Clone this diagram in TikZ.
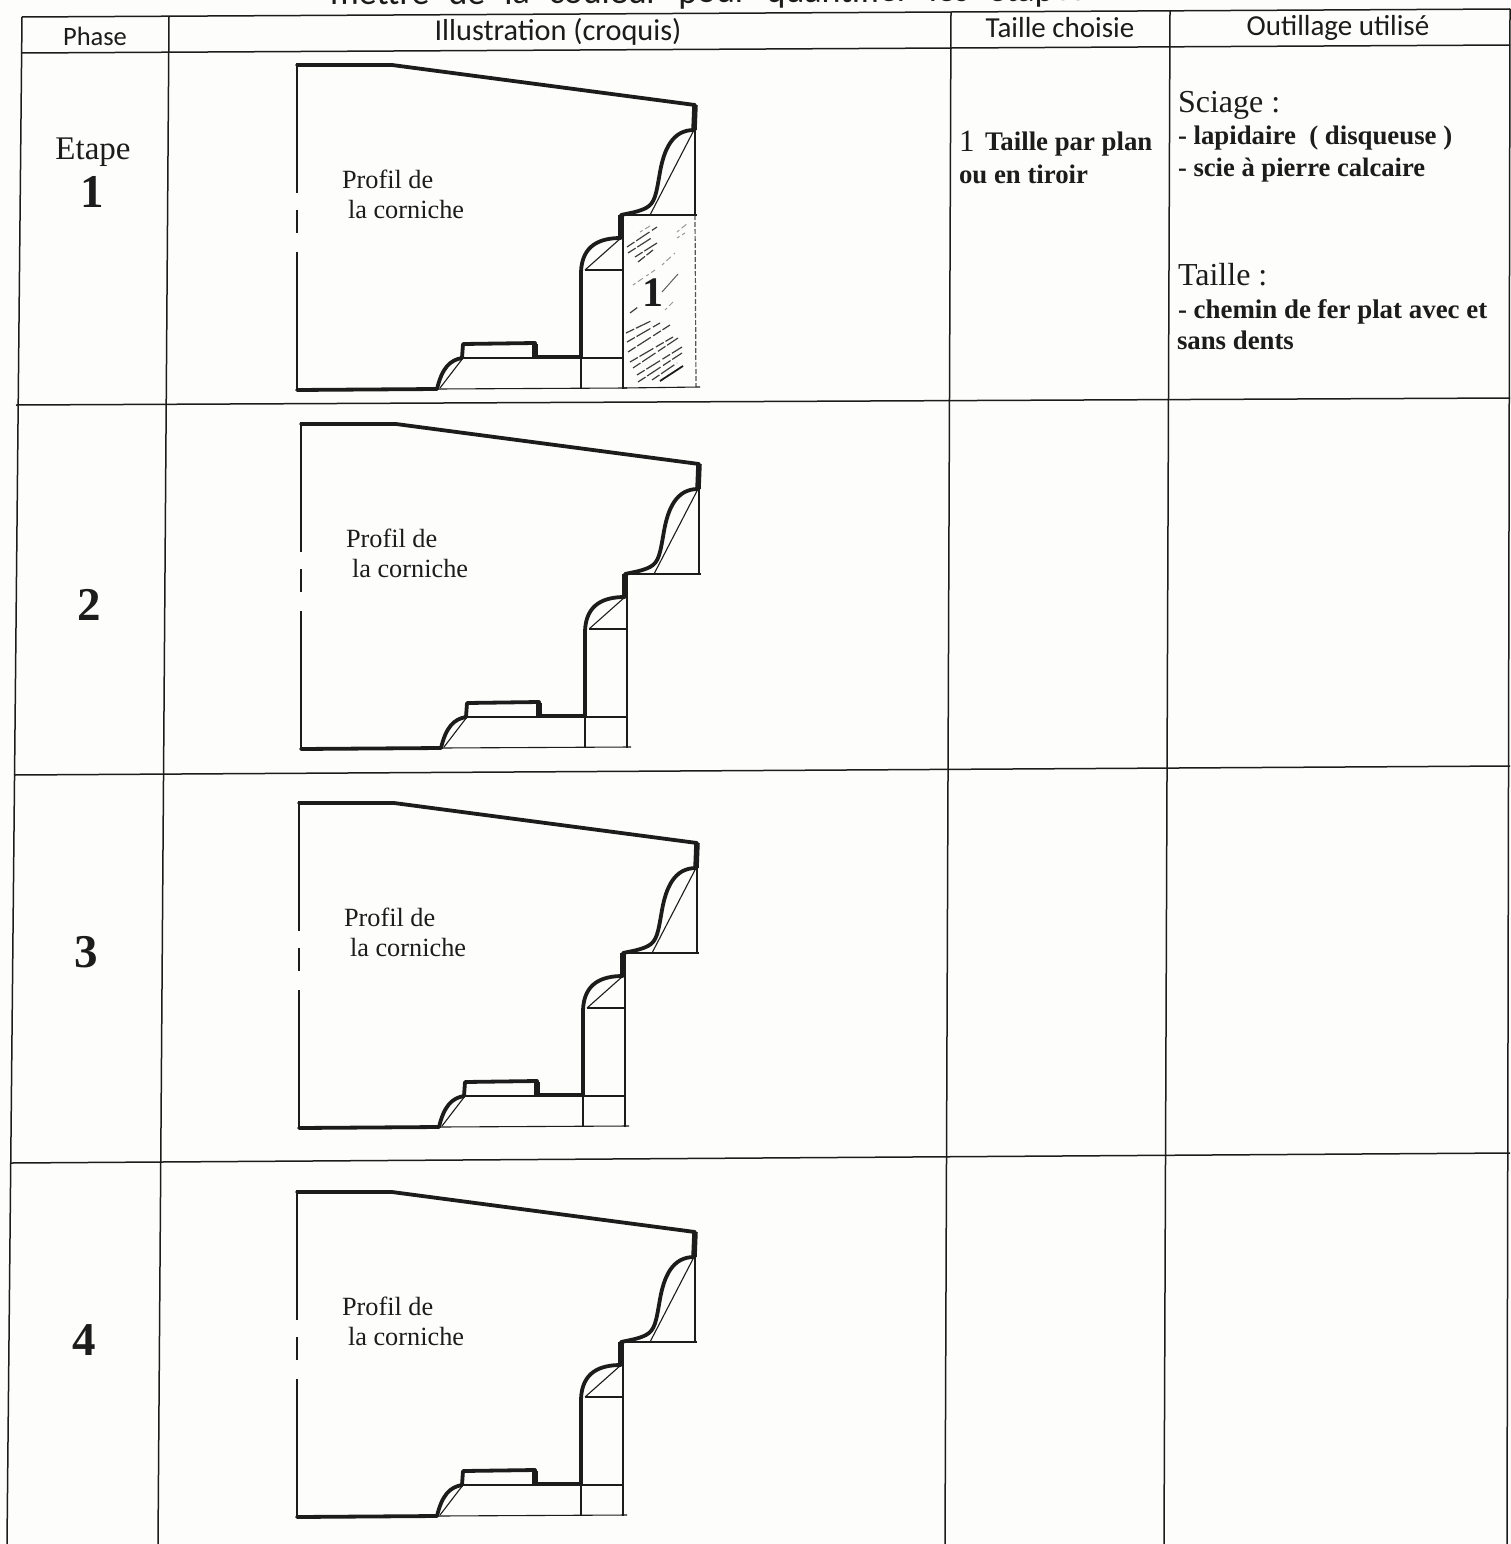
\documentclass[tikz,border=0pt]{standalone}
\usepackage{fontspec}
\setmainfont{Liberation Serif}
\newfontfamily\handfont{Carlito}
\definecolor{paper}{HTML}{FDFDFB}
\definecolor{ink}{HTML}{1C1C1C}
\tikzset{
  rule/.style={draw=ink,line width=1.5pt},
  heavy/.style={draw=ink,line width=3.8pt,line cap=round,line join=round},
  heavier/.style={draw=ink,line width=5.5pt},
  light/.style={draw=ink,line width=1.1pt},
  medium/.style={draw=ink,line width=2pt},
  txt/.style={inner sep=0pt,outer sep=0pt,anchor=base west,text=ink},
  headtxt/.style={inner sep=0pt,outer sep=0pt,anchor=center,text=ink,font=\handfont\fontsize{29}{32}\selectfont},
  numtxt/.style={inner sep=0pt,outer sep=0pt,anchor=center,text=ink,font=\bfseries\fontsize{47}{50}\selectfont},
  hatch/.style={draw=ink!85,line width=1.2pt,dash pattern=on 9pt off 2pt on 16pt off 3pt},
  hatchsoft/.style={draw=ink!45,line width=1pt,dash pattern=on 3pt off 3pt on 6pt off 4pt},
}
\newcommand{\corniche}[2]{%
  \begin{scope}[shift={(#1,#2)}]
    \draw[light] (694,130) -- (650,215);
    \draw[light] (695,130) -- (695,215);
    \draw[medium] (621,215) -- (697,215);
    \draw[light] (621,238) -- (585,270);
    \draw[light] (585,270) -- (623,270);
    \draw[light] (623,238) -- (623,389);
    \draw[light] (463,358) -- (623,358);
    \draw[light] (581,357) -- (581,388);
    \draw[light] (463,358) -- (440,388);
    \draw[light] (437,389) -- (627,388);
    \draw[medium] (297,63) -- (297,193);
    \draw[medium] (297,210) -- (297,233);
    \draw[medium] (297,252) -- (297,391);
    \draw[heavy] (297,65) -- (392,65) -- (695,105) -- (694,130)
      .. controls (672,130) and (664,150) .. (660,172)
      .. controls (656,195) and (655,203) .. (646,208)
      .. controls (638,212) and (630,213) .. (621,215)
      -- (621,238)
      .. controls (600,238) and (582,245) .. (581,272)
      -- (581,357) -- (535,357) -- (535,343) -- (463,344) -- (462,358)
      .. controls (450,360) and (442,368) .. (437,389)
      -- (297,390);
    \draw[heavier] (695,105) -- (694,130);
    \draw[heavier] (621,215) -- (621,238);
    \draw[heavier] (535,344) -- (535,357);
    \node[txt,font=\fontsize{26.3}{30}\selectfont] (a#2) at (342,188) {Profil de};
    \node[txt,font=\fontsize{26.3}{30}\selectfont] (b#2) at (348,218) {la corniche};
  \end{scope}%
}
\begin{document}
\begin{tikzpicture}[x=1pt,y=-1pt]
\useasboundingbox (0,0) rectangle (1511,1544);
\clip (0,0) rectangle (1511,1544);
\fill[paper] (0,0) rectangle (1511,1544);

% caption, cropped by the top edge of the scan
\node[inner sep=0pt,anchor=base west,text=ink,rotate=0.32,font=\handfont\fontsize{36}{38}\selectfont] (cap) at (330,5) {\spaceskip=19pt mettre de la couleur pour quantifier les étapes};

% table rules
\draw[rule] (22,17) -- (1510,9);
\draw[rule] (22,53) -- (1510,45);
\draw[rule] (16,405) -- (1510,398);
\draw[rule] (14,775) -- (1510,766);
\draw[rule] (11,1163) -- (1510,1153);
\draw[rule] (22,17) -- (7,1544);
\draw[rule] (169,17) -- (158,1544);
\draw[rule] (951,12) -- (945,1544);
\draw[rule] (1170,11) -- (1164,1544);
\draw[rule] (1510,9) -- (1507,1544);

% header
\node[headtxt,font=\handfont\fontsize{26.5}{30}\selectfont] (h1) at (95,36) {Phase};
\node[headtxt,font=\handfont\fontsize{30.3}{32}\selectfont] (h2) at (558,32) {Illustration (croquis)};
\node[headtxt] (h3) at (1060,28) {Taille choisie};
\node[headtxt] (h4) at (1338,28) {Outillage utilisé};

% phase labels
\node[inner sep=0pt,anchor=center,text=ink,font=\fontsize{33}{36}\selectfont] (et) at (93,152) {Etape};
\node[numtxt] (n1) at (92,192) {1};
\node[numtxt] (n2) at (89,605) {2};
\node[numtxt] (n3) at (86,952) {3};
\node[numtxt] (n4) at (84,1340) {4};

% hatched block of the first sketch
\foreach \a/\b/\c/\d in {626/333/653/320,627/342/660/323,628/352/670/325,630/362/673/337,633/368/678/338,637/375/682/347,638/382/682/353,652/380/677/363,627/247/657/227,628/253/653/237,635/257/657/243,638/262/653/250,630/313/638/307}
  {\draw[hatch] (\a,\b) -- (\c,\d);}
\draw[draw=ink,line width=1.8pt] (660,381) -- (683,366);
\foreach \a/\b/\c/\d in {677/232/688/223,677/238/685/233,662/265/675/253,633/285/655/270,665/310/673/302,640/232/650/226}
  {\draw[hatchsoft] (\a,\b) -- (\c,\d);}
\draw[draw=ink!70,line width=1pt] (662,292) -- (678,274);
\draw[draw=ink!75,line width=1.2pt,dash pattern=on 5pt off 2pt] (695,215) -- (696,387);
\draw[draw=ink,line width=2.4pt] (623,215) -- (623,389);
\draw[light] (623,388) -- (700,387);
\node[inner sep=0pt,anchor=center,text=ink,font=\bfseries\fontsize{42}{44}\selectfont] (bloc) at (653,293) {1};

% sketches
\corniche{0}{0}
\corniche{4}{359}
\corniche{2}{738}
\corniche{0}{1127}

% chosen cut
\node[txt,font=\fontsize{31}{34}\selectfont] (t0) at (959,151) {1};
\node[txt,font=\bfseries\fontsize{26.8}{30}\selectfont] (t1) at (985,150) {Taille par plan};
\node[txt,font=\bfseries\fontsize{26.8}{30}\selectfont] (t2) at (959,183) {ou en tiroir};

% tools
\node[txt,font=\fontsize{32}{36}\selectfont] (o1) at (1178,113) {Sciage :};
\node[txt,font=\bfseries\fontsize{26.8}{30}\selectfont] (o2) at (1178,145) {- lapidaire\ \ ( disqueuse )};
\node[txt,font=\bfseries\fontsize{26.6}{30}\selectfont] (o3) at (1178,176) {- scie à pierre calcaire};
\node[txt,font=\fontsize{32}{36}\selectfont] (o4) at (1178,285) {Taille :};
\node[txt,font=\bfseries\fontsize{26.9}{30}\selectfont] (o5) at (1178,318) {- chemin de fer plat avec et};
\node[txt,font=\bfseries\fontsize{26.8}{30}\selectfont] (o6) at (1177,349) {sans dents};
\end{tikzpicture}
\end{document}
